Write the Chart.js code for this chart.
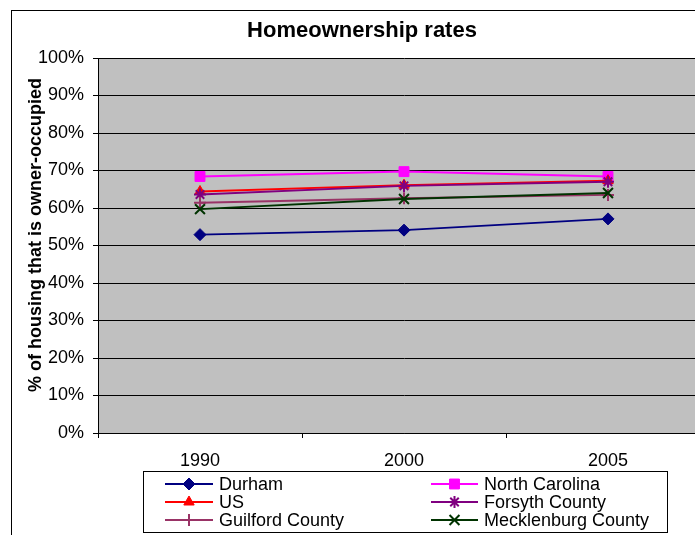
<!DOCTYPE html>
<html>
<head>
<meta charset="utf-8">
<script src="https://cdn.jsdelivr.net/npm/chart.js@4/dist/chart.umd.min.js"></script>
<style>
  html, body { margin: 0; padding: 0; background: #ffffff; overflow: hidden; }
  #wrap { position: absolute; left: 0; top: 0; width: 730px; height: 560px; }
</style>
</head>
<body>
<div id="wrap"><canvas id="c" width="730" height="560"></canvas></div>
<script>
// Homeownership rates, share of housing units that are owner-occupied (%)
const years = ['1990', '2000', '2005'];
const durham = [52.9, 54.1, 57.1];
const northCarolina = [68.4, 69.7, 68.4];
const us = [64.4, 66.1, 67.3];
const forsyth = [63.6, 65.9, 67.0];
const guilford = [61.4, 62.6, 63.5];
const mecklenburg = [59.7, 62.4, 64.0];

const yTicks = [0, 10, 20, 30, 40, 50, 60, 70, 80, 90, 100];

const FONT = '"Liberation Sans", Arial, sans-serif';

const seriesDefs = [
  { label: 'Durham', data: durham, color: '#000080', style: 'rectRot', r: 6 },
  { label: 'North Carolina', data: northCarolina, color: '#FF00FF', style: 'rect', r: 7 },
  { label: 'US', data: us, color: '#FF0000', style: 'triangle', r: 6 },
  { label: 'Forsyth County', data: forsyth, color: '#800080', style: 'star', r: 6 },
  { label: 'Guilford County', data: guilford, color: '#993366', style: 'cross', r: 6 },
  { label: 'Mecklenburg County', data: mecklenburg, color: '#003300', style: 'crossRot', r: 7 }
];

const isStroked = s => s.style === 'star' || s.style === 'cross' || s.style === 'crossRot';

const datasets = seriesDefs.map((s, i) => ({
  label: s.label,
  data: s.data,
  borderColor: s.color,
  backgroundColor: s.color,
  borderWidth: 2,
  pointStyle: s.style,
  pointRadius: s.r,
  pointHoverRadius: s.r,
  pointBackgroundColor: s.color,
  pointBorderColor: s.color,
  pointBorderWidth: isStroked(s) ? 2 : 1,
  tension: 0,
  fill: false,
  order: seriesDefs.length - i
}));

const frame = {
  id: 'frame',
  beforeDraw(chart) {
    const { ctx, chartArea: a } = chart;
    ctx.save();
    ctx.fillStyle = '#ffffff';
    ctx.fillRect(0, 0, chart.width, chart.height);
    ctx.fillStyle = '#C0C0C0';
    ctx.fillRect(a.left, a.top, a.right - a.left, a.bottom - a.top);
    ctx.restore();
  },
  afterDraw(chart) {
    const { ctx } = chart;
    ctx.save();
    // outer chart border
    ctx.strokeStyle = '#000000';
    ctx.lineWidth = 1;
    ctx.strokeRect(11.5, 10.5, 900, 900);

    // title
    ctx.fillStyle = '#000000';
    ctx.font = 'bold 22px ' + FONT;
    ctx.textAlign = 'center';
    ctx.textBaseline = 'alphabetic';
    ctx.fillText('Homeownership rates', 362, 37);

    // vertical axis title
    ctx.save();
    ctx.translate(36, 235);
    ctx.rotate(-Math.PI / 2);
    ctx.font = 'bold 18px ' + FONT;
    ctx.textBaseline = 'middle';
    ctx.fillText('% of housing that is owner-occupied', 0, 0);
    ctx.restore();

    // legend box
    ctx.strokeRect(143.5, 471.5, 524, 61);
    const cols = [{ x0: 165, x1: 213, tx: 219 }, { x0: 431, x1: 478, tx: 484 }];
    const rows = [484, 502, 520];
    ctx.font = '18px ' + FONT;
    ctx.textAlign = 'left';
    ctx.textBaseline = 'middle';
    seriesDefs.forEach((s, i) => {
      const c = cols[i % 2];
      const y = rows[Math.floor(i / 2)];
      ctx.strokeStyle = s.color;
      ctx.fillStyle = s.color;
      ctx.lineWidth = 2;
      ctx.beginPath();
      ctx.moveTo(c.x0, y);
      ctx.lineTo(c.x1, y);
      ctx.stroke();
      const bw = isStroked(s) ? 2 : 1;
      ctx.lineWidth = bw;
      Chart.helpers.drawPoint(ctx, { pointStyle: s.style, radius: s.r, rotation: 0, borderWidth: bw }, (c.x0 + c.x1) / 2, y);
      ctx.fillStyle = '#000000';
      ctx.fillText(s.label, c.tx, y + 1);
    });
    ctx.restore();
  }
};

new Chart(document.getElementById('c'), {
  type: 'line',
  data: { labels: years, datasets },
  plugins: [frame],
  options: {
    responsive: false,
    animation: false,
    events: [],
    layout: { padding: { left: 0, top: 58, right: 20, bottom: 87 } },
    plugins: { legend: { display: false }, title: { display: false }, tooltip: { enabled: false } },
    scales: {
      x: {
        type: 'category',
        offset: true,
        afterFit(scale) { scale.height = 40; },
        grid: { offset: true, drawOnChartArea: false, drawTicks: true, tickLength: 5, color: '#000000', lineWidth: 1 },
        border: { display: true, color: '#000000', width: 1 },
        ticks: { color: '#000000', font: { family: FONT, size: 18 }, padding: 12, maxRotation: 0 }
      },
      y: {
        min: 0,
        max: 100,
        afterFit(scale) { scale.width = 98; },
        afterBuildTicks(scale) { scale.ticks = yTicks.map(v => ({ value: v })); },
        grid: { color: '#000000', lineWidth: 1, drawTicks: true, tickLength: 5 },
        border: { display: true, color: '#000000', width: 1 },
        ticks: {
          color: '#000000',
          font: { family: FONT, size: 18 },
          padding: 9,
          callback: v => v + '%'
        }
      }
    }
  }
});
</script>
</body>
</html>
